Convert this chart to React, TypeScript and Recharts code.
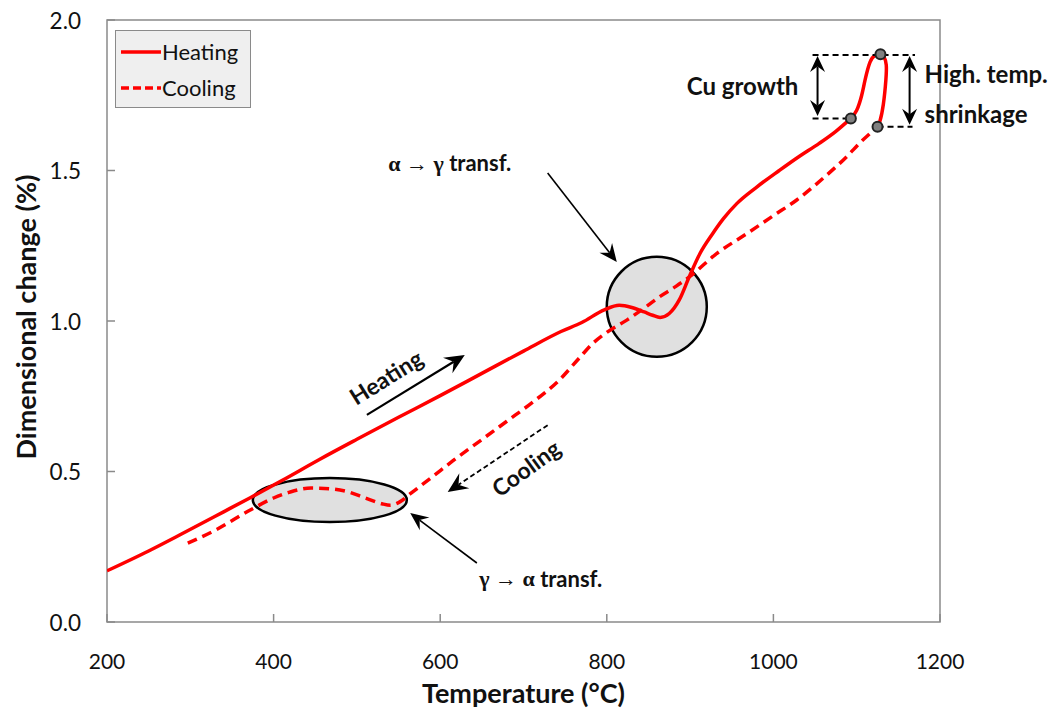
import React from 'react';
import { LineChart, Line, XAxis, YAxis, Legend, ReferenceArea, ReferenceDot, ReferenceLine } from 'recharts';

// heating curve up to the start of the Cu growth step
const heatTemp = [200, 250, 290, 340, 372, 410, 455, 500, 550, 600, 650, 700, 745, 770, 797, 815, 830, 845, 855, 864, 875, 887, 899, 912, 927, 940, 956, 980, 1007, 1030, 1055, 1075, 1093];
const heatChange = [0.170, 0.236, 0.293, 0.366, 0.413, 0.470, 0.540, 0.607, 0.680, 0.752, 0.826, 0.900, 0.965, 0.995, 1.037, 1.052, 1.045, 1.030, 1.019, 1.012, 1.025, 1.070, 1.147, 1.225, 1.290, 1.340, 1.390, 1.445, 1.500, 1.545, 1.590, 1.630, 1.673];

// Cu growth + high temperature shrinkage loop
const loopTemp = [1093, 1100, 1106, 1110, 1116, 1122, 1128, 1133, 1135.5, 1135, 1132, 1128, 1125];
const loopChange = [1.673, 1.700, 1.750, 1.800, 1.860, 1.882, 1.886, 1.876, 1.850, 1.800, 1.720, 1.665, 1.645];

const coolTemp = [297, 330, 372, 400, 420, 445, 470, 490, 510, 530, 540, 552, 565, 590, 615, 650, 680, 710, 743, 767, 783, 800, 824, 845, 863, 883, 903, 930, 968, 1000, 1028, 1060, 1088, 1105, 1125];
const coolChange = [0.262, 0.305, 0.372, 0.412, 0.432, 0.445, 0.442, 0.432, 0.412, 0.393, 0.388, 0.400, 0.428, 0.481, 0.535, 0.606, 0.667, 0.728, 0.804, 0.877, 0.925, 0.962, 1.003, 1.043, 1.080, 1.115, 1.155, 1.220, 1.290, 1.350, 1.402, 1.475, 1.546, 1.595, 1.645];

const xTicks = [200, 400, 600, 800, 1000, 1200];
const yTicks = [0, 0.5, 1.0, 1.5, 2.0];

const heating = heatTemp.map((t, i) => ({ t, v: heatChange[i] }));
const heatingLoop = loopTemp.map((t, i) => ({ t, v: loopChange[i] }));
const cooling = coolTemp.map((t, i) => ({ t, v: coolChange[i] }));

const FONT = "Lato, 'Open Sans', sans-serif";
const SERIF = "'Liberation Serif', 'DejaVu Serif', serif";
const RED = '#ff0000';
const FRAME = '#8a8a8a';

function head(tx: number, ty: number, fx: number, fy: number, len = 17, half = 7.5) {
  const a = Math.atan2(ty - fy, tx - fx);
  const ux = Math.cos(a), uy = Math.sin(a);
  const bx = tx - ux * len, by = ty - uy * len;
  const nx = tx - ux * len * 0.65, ny = ty - uy * len * 0.65;
  const pts = [
    [tx, ty],
    [bx - uy * half, by + ux * half],
    [nx, ny],
    [bx + uy * half, by - ux * half],
  ];
  return { pts: pts.map((p) => p.join(',')).join(' '), nx, ny };
}

const arrow = (opts: { dash?: string; width?: number; both?: boolean; len?: number; half?: number }) => (props: any) => {
  const { x1, y1, x2, y2 } = props;
  const end = head(x2, y2, x1, y1, opts.len, opts.half);
  const start = opts.both ? head(x1, y1, x2, y2, opts.len, opts.half) : null;
  return (
    <g>
      <line
        x1={start ? start.nx : x1}
        y1={start ? start.ny : y1}
        x2={end.nx}
        y2={end.ny}
        stroke="#000"
        strokeWidth={opts.width ?? 2}
        strokeDasharray={opts.dash}
      />
      <polygon points={end.pts} fill="#000" />
      {start && <polygon points={start.pts} fill="#000" />}
    </g>
  );
};

const label = (text: React.ReactNode, anchor: string, size: number, angle = 0) => (props: any) => {
  const { cx, cy } = props;
  return (
    <text
      x={cx}
      y={cy}
      textAnchor={anchor}
      dominantBaseline="central"
      transform={angle ? `rotate(${angle} ${cx} ${cy})` : undefined}
      fontFamily={FONT}
      fontWeight={700}
      fontSize={size}
      fill="#111"
    >
      {text}
    </text>
  );
};

const XTick = (props: any) => {
  const { x, y, payload } = props;
  return (
    <g>
      <line x1={x} y1={y} x2={x} y2={y - 8} stroke={FRAME} strokeWidth={1.5} />
      <text x={x} y={y + 38} textAnchor="middle" dominantBaseline="central" fontFamily={FONT} fontSize={21} fill="#111">
        {payload.value}
      </text>
    </g>
  );
};

const YTick = (props: any) => {
  const { x, y, payload } = props;
  return (
    <g>
      <line x1={x} y1={y} x2={x + 8} y2={y} stroke={FRAME} strokeWidth={1.5} />
      <text x={x - 26} y={y} textAnchor="end" dominantBaseline="central" fontFamily={FONT} fontSize={22.5} fill="#111">
        {Number(payload.value).toFixed(1)}
      </text>
    </g>
  );
};

const LegendBox = () => (
  <div
    style={{
      background: '#efefef',
      border: `1.5px solid ${FRAME}`,
      width: 136,
      height: 78,
      padding: '3px 0 0 4px',
      boxSizing: 'border-box',
      fontFamily: FONT,
      fontSize: 22,
      color: '#111',
      lineHeight: '36px',
    }}
  >
    {['Heating', 'Cooling'].map((name, i) => (
      <div key={name} style={{ display: 'flex', alignItems: 'center' }}>
        <svg width={42} height={10}>
          <line x1={1} y1={5} x2={41} y2={5} stroke={RED} strokeWidth={3.5} strokeDasharray={i ? '8 4' : undefined} />
        </svg>
        <span>{name}</span>
      </div>
    ))}
  </div>
);

const YLabel = (props: any) => {
  const vb = props.viewBox;
  const cx = vb.x + 25;
  const cy = vb.y + vb.height / 2 - 4;
  return (
    <text
      x={cx}
      y={cy}
      transform={`rotate(-90 ${cx} ${cy})`}
      textAnchor="middle"
      dominantBaseline="central"
      fontFamily={FONT}
      fontWeight={700}
      fontSize={27}
      fill="#111"
    >
      Dimensional change (%)
    </text>
  );
};

export default function App() {
  return (
    <div style={{ position: 'absolute', left: 0, top: 0, background: '#fff' }}>
      <LineChart width={1056} height={712} margin={{ top: 20, right: 116, left: 0, bottom: 0 }}>
        <XAxis
          type="number"
          dataKey="t"
          domain={[200, 1200]}
          ticks={xTicks}
          allowDataOverflow
          axisLine={false}
          tickLine={false}
          tickSize={0}
          tickMargin={0}
          height={90}
          tick={<XTick />}
          label={{ value: 'Temperature (°C)', position: 'insideBottom', offset: 9, style: { fontFamily: FONT, fontWeight: 700, fontSize: 27, fill: '#111' } }}
        />
        <YAxis
          type="number"
          domain={[0, 2]}
          ticks={yTicks}
          allowDataOverflow
          axisLine={false}
          tickLine={false}
          tickSize={0}
          tickMargin={0}
          width={107}
          tick={<YTick />}
          label={{ content: <YLabel /> }}
        />
        <ReferenceArea x1={200} x2={1200} y1={0} y2={2} fill="none" stroke={FRAME} strokeWidth={1.5} />

        {/* transformation highlights, kept under the curves */}
        <ReferenceDot
          x={860}
          y={1.047}
          r={50}
          zIndex={-10}
          fill="#000"
          fillOpacity={0.12}
          stroke="#000"
          strokeWidth={2.5}
          ifOverflow="visible"
        />
        <ReferenceDot
          x={467.5}
          y={0.405}
          r={1}
          zIndex={-10}
          ifOverflow="visible"
          shape={(p: any) => <ellipse cx={p.cx} cy={p.cy} rx={77} ry={22} fill="#000" fillOpacity={0.12} stroke="#000" strokeWidth={2.5} />}
        />

        <Line data={heating} dataKey="v" name="Heating" type="monotone" stroke={RED} strokeWidth={3.5} dot={false} isAnimationActive={false} />
        <Line data={heatingLoop} dataKey="v" name="Heating" legendType="none" type="natural" stroke={RED} strokeWidth={3.5} dot={false} isAnimationActive={false} />
        <Line data={cooling} dataKey="v" name="Cooling" type="monotone" stroke={RED} strokeWidth={3.5} strokeDasharray="10 6" dot={false} isAnimationActive={false} />

        <Legend layout="vertical" align="center" verticalAlign="middle" content={<LegendBox />} wrapperStyle={{ left: 115, top: 30, width: 'auto', height: 'auto' }} />

        {/* dashed guides for Cu growth and shrinkage */}
        <ReferenceLine segment={[{ x: 1047, y: 1.884 }, { x: 1170, y: 1.884 }]} stroke="#000" strokeWidth={2} strokeDasharray="6 4" ifOverflow="visible" />
        <ReferenceLine segment={[{ x: 1047, y: 1.673 }, { x: 1093, y: 1.673 }]} stroke="#000" strokeWidth={2} strokeDasharray="6 4" ifOverflow="visible" />
        <ReferenceLine segment={[{ x: 1125, y: 1.645 }, { x: 1167, y: 1.645 }]} stroke="#000" strokeWidth={2} strokeDasharray="6 4" ifOverflow="visible" />

        <ReferenceLine segment={[{ x: 1053, y: 1.681 }, { x: 1053, y: 1.880 }]} ifOverflow="visible" shape={arrow({ both: true, len: 16, half: 7.5 })} />
        <ReferenceLine segment={[{ x: 1163.5, y: 1.652 }, { x: 1163.5, y: 1.880 }]} ifOverflow="visible" shape={arrow({ both: true, len: 16, half: 7.5 })} />

        <ReferenceLine segment={[{ x: 512, y: 0.688 }, { x: 629.5, y: 0.887 }]} ifOverflow="visible" shape={arrow({ width: 2.2, len: 20, half: 9 })} />
        <ReferenceLine segment={[{ x: 729, y: 0.654 }, { x: 609, y: 0.432 }]} ifOverflow="visible" shape={arrow({ width: 1.8, dash: '5 3', len: 20, half: 9 })} />
        <ReferenceLine segment={[{ x: 729, y: 1.492 }, { x: 812, y: 1.196 }]} ifOverflow="visible" shape={arrow({ width: 1.6, len: 18, half: 8 })} />
        <ReferenceLine segment={[{ x: 644, y: 0.196 }, { x: 564, y: 0.362 }]} ifOverflow="visible" shape={arrow({ width: 1.6, len: 18, half: 8 })} />

        <ReferenceDot x={1093} y={1.673} r={5} fill="#808080" stroke="#222" strokeWidth={2} ifOverflow="visible" />
        <ReferenceDot x={1128.5} y={1.886} r={5} fill="#808080" stroke="#222" strokeWidth={2} ifOverflow="visible" />
        <ReferenceDot x={1125} y={1.645} r={5} fill="#808080" stroke="#222" strokeWidth={2} ifOverflow="visible" />

        <ReferenceDot x={963} y={1.781} r={1} ifOverflow="visible" shape={label('Cu growth', 'middle', 24)} />
        <ReferenceDot x={1181.5} y={1.821} r={1} ifOverflow="visible" shape={label('High. temp.', 'start', 24)} />
        <ReferenceDot x={1181.5} y={1.691} r={1} ifOverflow="visible" shape={label('shrinkage', 'start', 24)} />
        <ReferenceDot
          x={611.5}
          y={1.525}
          r={1}
          ifOverflow="visible"
          shape={label(<><tspan fontFamily={SERIF} fontSize={22}>α → γ</tspan> transf.</>, 'middle', 22)}
        />
        <ReferenceDot
          x={720.7}
          y={0.146}
          r={1}
          ifOverflow="visible"
          shape={label(<><tspan fontFamily={SERIF} fontSize={22}>γ → α</tspan> transf.</>, 'middle', 22)}
        />
        <ReferenceDot x={534.7} y={0.814} r={1} ifOverflow="visible" shape={label('Heating', 'middle', 23, -32)} />
        <ReferenceDot x={702.7} y={0.512} r={1} ifOverflow="visible" shape={label('Cooling', 'middle', 23, -36)} />
      </LineChart>
    </div>
  );
}
